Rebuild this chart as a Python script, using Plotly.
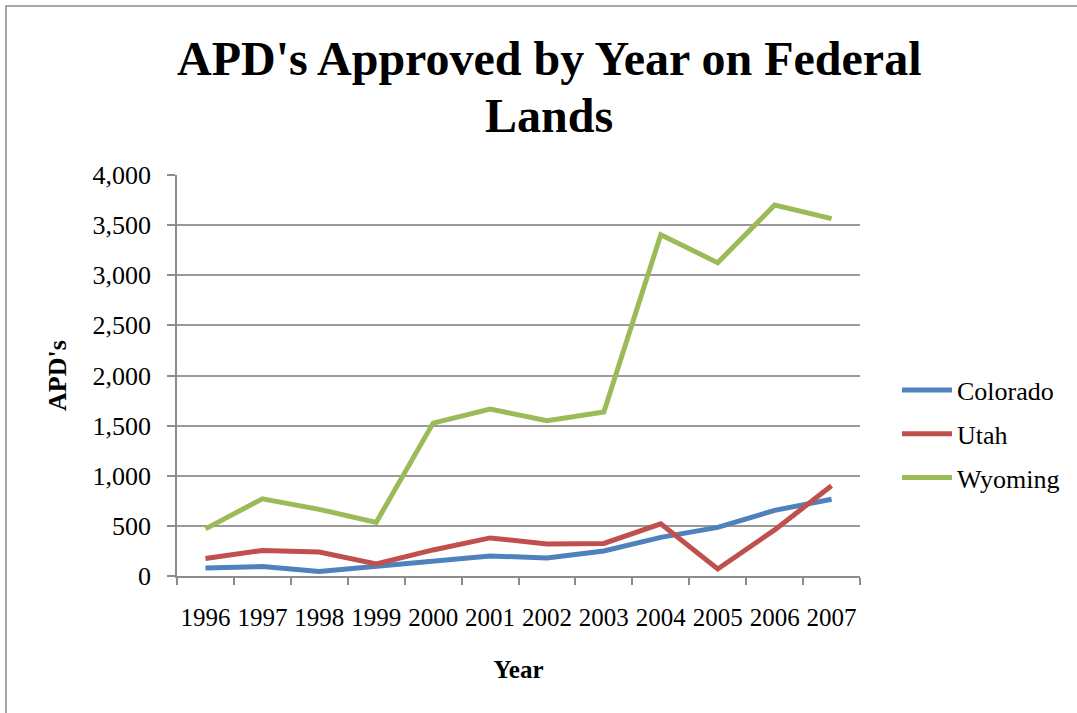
import plotly.graph_objects as go

years = ["1996", "1997", "1998", "1999", "2000", "2001",
         "2002", "2003", "2004", "2005", "2006", "2007"]
colorado = [80, 95, 45, 100, 155, 200, 180, 250, 385, 485, 655, 765]
utah = [175, 255, 240, 120, 260, 380, 320, 325, 520, 70, 460, 900]
wyoming = [470, 770, 665, 535, 1525, 1665, 1550, 1635, 3405, 3125, 3700, 3565]

series = [("Colorado", colorado, "#4F81BD"),
          ("Utah", utah, "#C0504D"),
          ("Wyoming", wyoming, "#9BBB59")]

title_lines = ["APD's Approved by Year on Federal", "Lands"]

FONT = "Liberation Serif, Times New Roman, serif"

fig = go.Figure()
for i, (name, vals, color) in enumerate(series):
    fig.add_trace(go.Scatter(
        x=years, y=vals, name=name, mode="lines",
        line=dict(color=color, width=5),
        legendgroup=f"g{i}",
    ))

W, H = 1077, 713
L, R, T, B = 177, 217, 175, 137
pw, ph = W - L - R, H - T - B

def px_x(p):
    return (p - L) / pw

def px_y(p):
    return (H - B - p) / ph

# two-line title, placed line by line for tighter leading
for text, ymid in zip(title_lines, [58, 116]):
    fig.add_annotation(
        text=f"<b>{text}</b>", xref="paper", yref="paper",
        x=px_x(549), y=px_y(ymid), xanchor="center", yanchor="middle",
        showarrow=False, font=dict(family=FONT, size=48, color="black"),
    )

fig.update_layout(
    width=W, height=H,
    margin=dict(l=L, r=R, t=T, b=B, autoexpand=False),
    paper_bgcolor="white", plot_bgcolor="white",
    font=dict(family=FONT, color="black"),
    xaxis=dict(
        type="category", range=[-0.5, 11.5],
        tickson="boundaries", ticks="outside", ticklen=7, tickwidth=1.5,
        tickcolor="#8c8c8c", showline=True, linecolor="#8c8c8c", linewidth=1.5,
        showgrid=False, tickangle=0, ticklabelstandoff=18,
        tickfont=dict(family=FONT, size=25),
        title=dict(text="<b>Year</b>", font=dict(family=FONT, size=25), standoff=31),
    ),
    yaxis=dict(
        range=[0, 4000], dtick=500, tickformat=",",
        ticks="outside", ticklen=8, tickwidth=1.5, tickcolor="#8c8c8c",
        showline=True, linecolor="#8c8c8c", linewidth=1.5,
        showgrid=True, gridcolor="#9a9a9a", gridwidth=1.5,
        zeroline=False, ticklabelstandoff=11,
        tickfont=dict(family=FONT, size=26),
        title=dict(text="<b>APD's</b>", font=dict(family=FONT, size=26), standoff=18),
    ),
    legend=dict(
        x=px_x(897), xanchor="left",
        y=px_y(434), yanchor="middle",
        font=dict(family=FONT, size=26),
        traceorder="grouped", tracegroupgap=7,
        bgcolor="rgba(0,0,0,0)", itemwidth=50,
    ),
    shapes=[dict(
        type="rect", xref="paper", yref="paper",
        x0=px_x(6), x1=px_x(1100), y0=px_y(740), y1=px_y(6),
        line=dict(color="#8c8c8c", width=1.5), layer="below",
    )],
)

fig.write_html("out.html")
